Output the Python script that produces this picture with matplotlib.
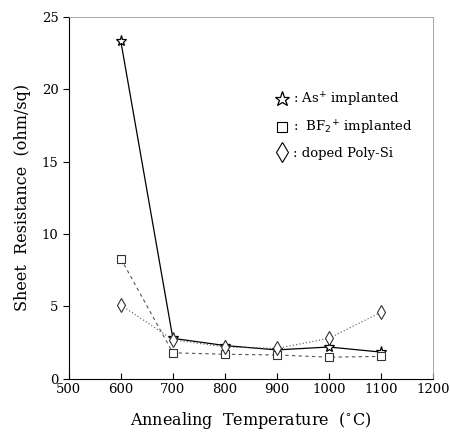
import numpy as np
import matplotlib.pyplot as plt

# Data
temps = [600, 700, 800, 900, 1000, 1100]
as_vals = [23.3, 2.8, 2.3, 2.0, 2.2, 1.85]
bf2_vals = [8.3, 1.8, 1.7, 1.65, 1.5, 1.55]
poly_vals = [5.1, 2.7, 2.2, 2.1, 2.8, 4.6]

x_ticks = [500, 600, 700, 800, 900, 1000, 1100, 1200]
y_ticks = [0, 5, 10, 15, 20, 25]

plt.rcParams['font.family'] = ['DejaVu Serif']

fig = plt.figure(figsize=(4.5, 4.32), dpi=100)
ax = fig.add_axes([0.153, 0.123, 0.809, 0.838])

ax.plot(temps, as_vals, '-', color='black', lw=0.9, marker='*', ms=8,
        mfc='white', mec='black', mew=0.9, label=': As$^{+}$ implanted')
ax.plot(temps, bf2_vals, linestyle=(0, (3, 3)), color='#555555', lw=0.8, marker='s', ms=5.5,
        mfc='white', mec='#333333', mew=0.8, label=':  BF$_2$$^{+}$ implanted')
ax.plot(temps, poly_vals, linestyle=(0, (1, 2)), color='#555555', lw=0.8, marker='d', ms=7,
        mfc='white', mec='#333333', mew=0.8, label=': doped Poly-Si')

ax.set_xlim(500, 1200)
ax.set_ylim(0, 25)
ax.set_xticks(x_ticks)
ax.set_yticks(y_ticks)
ax.tick_params(axis='x', direction='in', length=4, labelsize=9.5, pad=3)
ax.tick_params(axis='y', direction='out', length=4, labelsize=9.5)
for side in ['top', 'right']:
    ax.spines[side].set_color('#999999')
    ax.spines[side].set_linewidth(0.6)

ax.set_xlabel('Annealing  Temperature  ($^{\\circ}$C)', fontsize=11.5, labelpad=10)
ax.set_ylabel('Sheet  Resistance  (ohm/sq)', fontsize=11.5, labelpad=8)

leg = ax.legend(loc='upper left', bbox_to_anchor=(0.53, 0.83), frameon=False,
                handlelength=1.2, handletextpad=0.3, labelspacing=0.75, fontsize=9.5,
                markerscale=1.4)
for h in leg.legend_handles:
    h.set_linestyle('none')
    h.set_color('black')
    h.set_markeredgecolor('black')

fig.savefig('out.png', dpi=100)
